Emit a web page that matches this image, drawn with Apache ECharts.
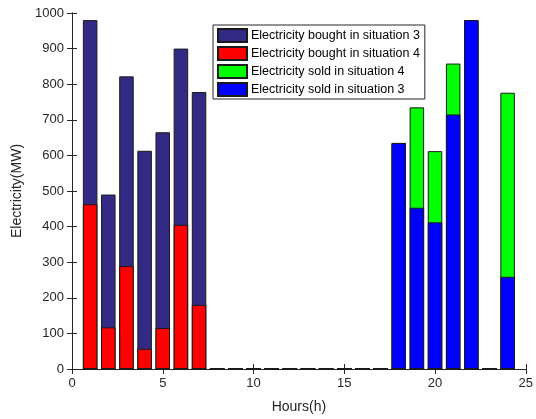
<!DOCTYPE html>
<html>
<head>
<meta charset="utf-8">
<script src="https://cdn.jsdelivr.net/npm/echarts@6/dist/echarts.min.js"></script>
<style>
  html, body { margin: 0; padding: 0; background: #fff; }
  #chart { width: 536px; height: 419px; }
</style>
</head>
<body>
<div id="chart"></div>
<script>
// Hourly electricity exchange (MW)
const hours = [1,2,3,4,5,6,7,8,9,10,11,12,13,14,15,16,17,18,19,20,21,22,23,24];
const boughtSit3 = [980,490,822,613,665,900,778,0,0,0,0,0,0,0,0,0,0,0,0,0,0,0,0,0];
const boughtSit4 = [463,117,289,57,115,405,180,0,0,0,0,0,0,0,0,0,0,0,0,0,0,0,0,0];
const soldSit4   = [0,0,0,0,0,0,0,0,0,0,0,0,0,0,0,0,0,635,735,612,858,980,0,776];
const soldSit3   = [0,0,0,0,0,0,0,0,0,0,0,0,0,0,0,0,0,635,453,412,715,980,0,259];
const xTicks = [0,5,10,15,20,25];
const yTicks = [0,100,200,300,400,500,600,700,800,900,1000];

const names = [
  'Electricity bought in situation 3',
  'Electricity bought in situation 4',
  'Electricity sold in situation 4',
  'Electricity sold in situation 3'
];
const colors = ['#332a85', '#ff0000', '#00ff00', '#0000ff'];
const values = [boughtSit3, boughtSit4, soldSit4, soldSit3];

const FONT = 'Liberation Sans, Arial, sans-serif';
const AX = '#262626';

const axisCommon = {
  axisLine: { show: true, lineStyle: { color: AX, width: 1 } },
  axisTick: { show: true, inside: true, length: 5, lineStyle: { color: AX } },
  splitLine: { show: false }
};

const chart = echarts.init(document.getElementById('chart'), null, { renderer: 'canvas' });
chart.setOption({
  animation: false,
  backgroundColor: '#fff',
  textStyle: { fontFamily: FONT },
  grid: { left: 72, right: 9, top: 13, bottom: 46 },
  legend: {
    data: names,
    orient: 'vertical',
    left: 213, top: 25,
    icon: 'rect',
    itemWidth: 29, itemHeight: 13, itemGap: 3,
    padding: [3, 5, 2, 4],
    borderColor: AX, borderWidth: 1, backgroundColor: '#fff',
    textStyle: { fontFamily: FONT, fontSize: 12.5, color: '#000', padding: [0, 0, 0, -1] },
    selectedMode: false
  },
  xAxis: [
    Object.assign({
      type: 'value', min: xTicks[0], max: xTicks[xTicks.length - 1], interval: xTicks[1] - xTicks[0],
      name: 'Hours(h)', nameLocation: 'middle', nameGap: 31,
      nameTextStyle: { fontFamily: FONT, fontSize: 14, color: AX },
      axisLabel: { fontFamily: FONT, fontSize: 13, color: AX, margin: 8, formatter: v => String(v) }
    }, axisCommon),
    Object.assign({
      type: 'value', position: 'top', min: xTicks[0], max: xTicks[xTicks.length - 1],
      interval: xTicks[1] - xTicks[0], axisLabel: { show: false }
    }, axisCommon)
  ],
  yAxis: [
    Object.assign({
      type: 'value', min: yTicks[0], max: yTicks[yTicks.length - 1], interval: yTicks[1] - yTicks[0],
      name: 'Electricity(MW)', nameLocation: 'middle', nameGap: 36,
      nameTextStyle: { fontFamily: FONT, fontSize: 14, color: AX },
      axisLabel: { fontFamily: FONT, fontSize: 13, color: AX, margin: 8, formatter: v => String(v) }
    }, axisCommon),
    Object.assign({
      type: 'value', position: 'right', min: yTicks[0], max: yTicks[yTicks.length - 1],
      interval: yTicks[1] - yTicks[0], axisLabel: { show: false }
    }, axisCommon)
  ],
  series: names.map((n, i) => ({
    name: n,
    type: 'bar',
    xAxisIndex: 0, yAxisIndex: 0,
    barWidth: '80%',
    barGap: '-100%',
    itemStyle: { color: colors[i], borderColor: '#1a1a1a', borderWidth: 1 },
    data: hours.map((h, k) => [h, values[i][k]])
  }))
});
</script>
</body>
</html>
